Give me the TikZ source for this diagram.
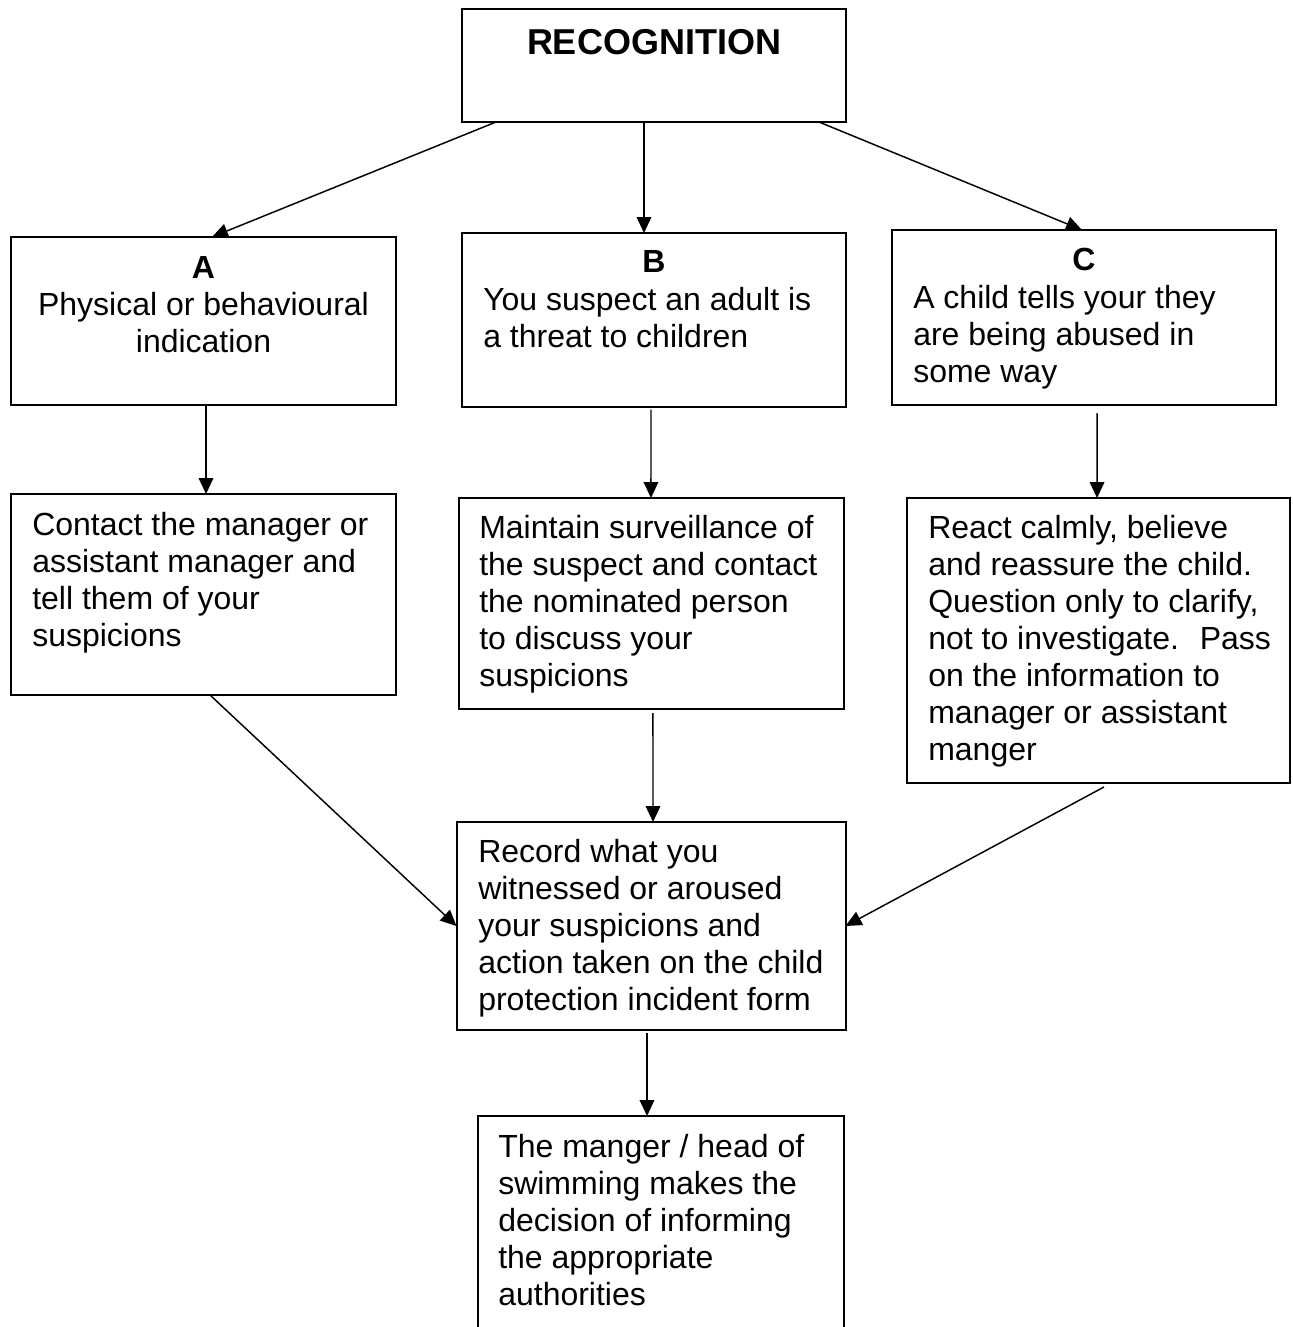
\documentclass[tikz,border=0pt]{standalone}
\usepackage{fontspec}
\setmainfont{Liberation Sans}
\usetikzlibrary{arrows.meta}
\begin{document}
\begin{tikzpicture}[x=0.75pt,y=-0.75pt,
  box/.style={draw, line width=1.5pt, rectangle, inner sep=0pt, outer sep=0pt},
  txt/.style={font=\fontsize{24}{27.75}\selectfont, inner sep=0pt, align=left, anchor=base west},
  ctxt/.style={font=\fontsize{24}{27.75}\selectfont, inner sep=0pt, align=center, anchor=base},
  lbl/.style={font=\fontsize{24}{27.75}\selectfont\bfseries, inner sep=0pt, anchor=base},
  ttl/.style={font=\fontsize{27}{31}\selectfont\bfseries, inner sep=0pt, anchor=base},
  arr/.style={-{Triangle[length=12pt,width=11pt]}, line width=1.1pt}]
\useasboundingbox (0,0) rectangle (1292,1327);
\clip (0,0) rectangle (1292,1327);

% boxes
\node[box, minimum width=384*0.75pt, minimum height=113*0.75pt] (rec) at (654,65.5) {};
\node[box, minimum width=385*0.75pt, minimum height=168*0.75pt] (a) at (203.5,321) {};
\node[box, minimum width=384*0.75pt, minimum height=174*0.75pt] (b) at (654,320) {};
\node[box, minimum width=384*0.75pt, minimum height=175*0.75pt] (c) at (1084,317.5) {};
\node[box, minimum width=385*0.75pt, minimum height=201*0.75pt] (a2) at (203.5,594.5) {};
\node[box, minimum width=385*0.75pt, minimum height=211*0.75pt] (b2) at (651.5,603.5) {};
\node[box, minimum width=383*0.75pt, minimum height=285*0.75pt] (c2) at (1098.5,640.5) {};
\node[box, minimum width=389*0.75pt, minimum height=208*0.75pt] (d) at (651,926) {};
\node[box, minimum width=366*0.75pt, minimum height=224*0.75pt] (e) at (661,1228) {};

% texts (base anchor = baseline of the last line)
\node[ttl] (recT) at (654,55) {RECOGNITION};
\node[lbl] (aL) at (203.5,278) {A};
\node[ctxt] (aT) at (203.5,352) {Physical or behavioural\\indication};
\node[lbl] (bL) at (654,272) {B};
\node[txt] (bT) at (483,347) {You suspect an adult is\\a threat to children};
\node[lbl] (cL) at (1084,270) {C};
\node[txt] (cT) at (913,382) {A child tells your they\\are being abused in\\some way};
\node[txt] (a2T) at (32,646) {Contact the manager or\\assistant manager and\\tell them of your\\suspicions};
\node[txt] (b2T) at (479,686) {Maintain surveillance of\\the suspect and contact\\the nominated person\\to discuss your\\suspicions};
\node[txt] (c2T) at (928,760) {React calmly, believe\\and reassure the child.\\Question only to clarify,\\not to investigate.~ Pass\\on the information to\\manager or assistant\\manger};
\node[txt] (dT) at (478,1010) {Record what you\\witnessed or aroused\\your suspicions and\\action taken on the child\\protection incident form};
\node[txt] (eT) at (498,1305) {The manger / head of\\swimming makes the\\decision of informing\\the appropriate\\authorities};

% connectors
\draw[arr] ([xshift=-118.5pt]rec.south) -- ([xshift=6.4pt]a.north);
\draw[arr] ([xshift=-7.5pt]rec.south) -- ([xshift=-7.5pt]b.north);
\draw[arr] ([xshift=123.75pt]rec.south) -- ([xshift=-1.5pt]c.north);
\draw[arr] ([xshift=1.9pt]a.south) -- ([xshift=1.9pt]a2.north);
\draw[arr] ([xshift=-2.25pt,yshift=-2pt]b.south) -- ([xshift=-0.4pt]b2.north);
\draw[arr] ([xshift=9.75pt,yshift=-6pt]c.south) -- ([xshift=-1.1pt]c2.north);
\draw[arr] ([xshift=4.9pt]a2.south) -- (d.west);
\draw[arr] ([xshift=1.1pt,yshift=-3pt]b2.south) -- ([xshift=1.5pt]d.north);
\draw[arr] ([xshift=4.1pt,yshift=-3pt]c2.south) -- (d.east);
\draw[arr] ([xshift=-3pt,yshift=-2pt]d.south) -- ([xshift=-10.5pt]e.north);
\end{tikzpicture}
\end{document}
